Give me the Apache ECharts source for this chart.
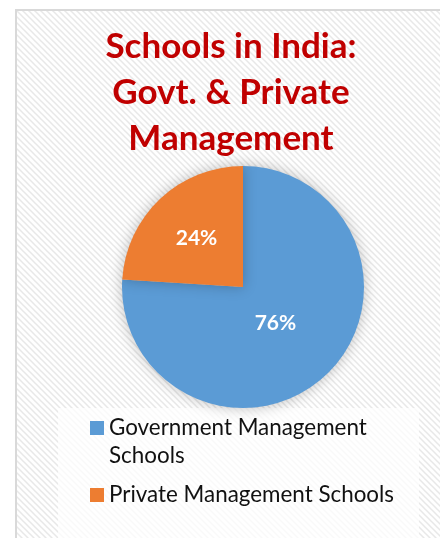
<!DOCTYPE html>
<html>
<head>
    <meta charset="utf-8">
    <title>Schools in India</title>
    <script src="https://cdn.jsdelivr.net/npm/echarts@6/dist/echarts.min.js"></script>
    <style>
        html, body { margin: 0; padding: 0; background: #fff; }
    </style>
</head>
<body>
<div id="main" style="width: 440px;height:538px;"></div>
<script type="text/javascript">

    /* data ===================== */
    var categories = ['Government Management Schools', 'Private Management Schools'];
    var shares = [76, 24];
    var colors = ['#5B9BD5', '#ED7D31'];

    /* diagonal hatch for the chart area */
    var hatch = document.createElement('canvas');
    hatch.width = 6;
    hatch.height = 6;
    var ctx = hatch.getContext('2d');
    ctx.fillStyle = '#ffffff';
    ctx.fillRect(0, 0, 6, 6);
    ctx.strokeStyle = '#e8e8e8';
    ctx.lineWidth = 1.5;
    ctx.beginPath();
    ctx.moveTo(-1, -1); ctx.lineTo(7, 7);
    ctx.moveTo(-4, 2); ctx.lineTo(4, 10);
    ctx.moveTo(2, -4); ctx.lineTo(10, 4);
    ctx.stroke();

    var myChart = echarts.init(document.getElementById('main'));

    var pieData = categories.map(function (name, i) {
        return {name: name, value: shares[i], itemStyle: {color: colors[i]}};
    });

    // nudge the inside labels to where Excel put them
    var labelShift = [[-11, -10], [-3, -2]];

    myChart.setOption({
        animation: false,
        graphic: [
            {
                type: 'rect',
                z: 0,
                shape: {x: 16, y: 10, width: 440, height: 540},
                style: {fill: {image: hatch, repeat: 'repeat'}, stroke: '#d9d9d9', lineWidth: 2}
            },
            {
                type: 'rect',
                z: 1,
                shape: {x: 58, y: 408, width: 361, height: 140},
                style: {fill: 'rgba(255,255,255,0.75)'}
            }
        ],
        title: {
            text: 'Schools in India:\nGovt. & Private\nManagement',
            left: 231,
            textAlign: 'center',
            top: 24,
            padding: 0,
            textStyle: {
                fontFamily: 'Lato',
                fontSize: 35,
                fontWeight: 'bold',
                lineHeight: 46,
                color: '#C00000'
            }
        },
        legend: {
            orient: 'vertical',
            left: 90,
            top: 386,
            padding: 0,
            itemGap: 11,
            itemWidth: 14,
            itemHeight: 14,
            icon: 'rect',
            selectedMode: false,
            data: categories,
            // keep the marker level with the first line of a wrapped name
            formatter: function (name) {
                return name === categories[0] ? '\n' + name : name;
            },
            textStyle: {
                fontFamily: 'Lato',
                fontSize: 22.4,
                lineHeight: 28,
                color: '#111111',
                width: 300,
                overflow: 'break'
            }
        },
        series: [
            {
                type: 'pie',
                center: [243, 287],
                radius: 121,
                startAngle: 90,
                clockwise: true,
                data: pieData,
                itemStyle: {
                    shadowBlur: 14,
                    shadowColor: 'rgba(0,0,0,0.25)'
                },
                label: {
                    position: 'inside',
                    formatter: '{d}%',
                    fontFamily: 'Lato',
                    fontSize: 21,
                    fontWeight: 'bold',
                    color: '#ffffff'
                },
                labelLayout: function (params) {
                    var s = labelShift[params.dataIndex];
                    return {dx: s[0], dy: s[1]};
                },
                labelLine: {show: false},
                emphasis: {disabled: true}
            }
        ]
    });

</script>
</body>
</html>
